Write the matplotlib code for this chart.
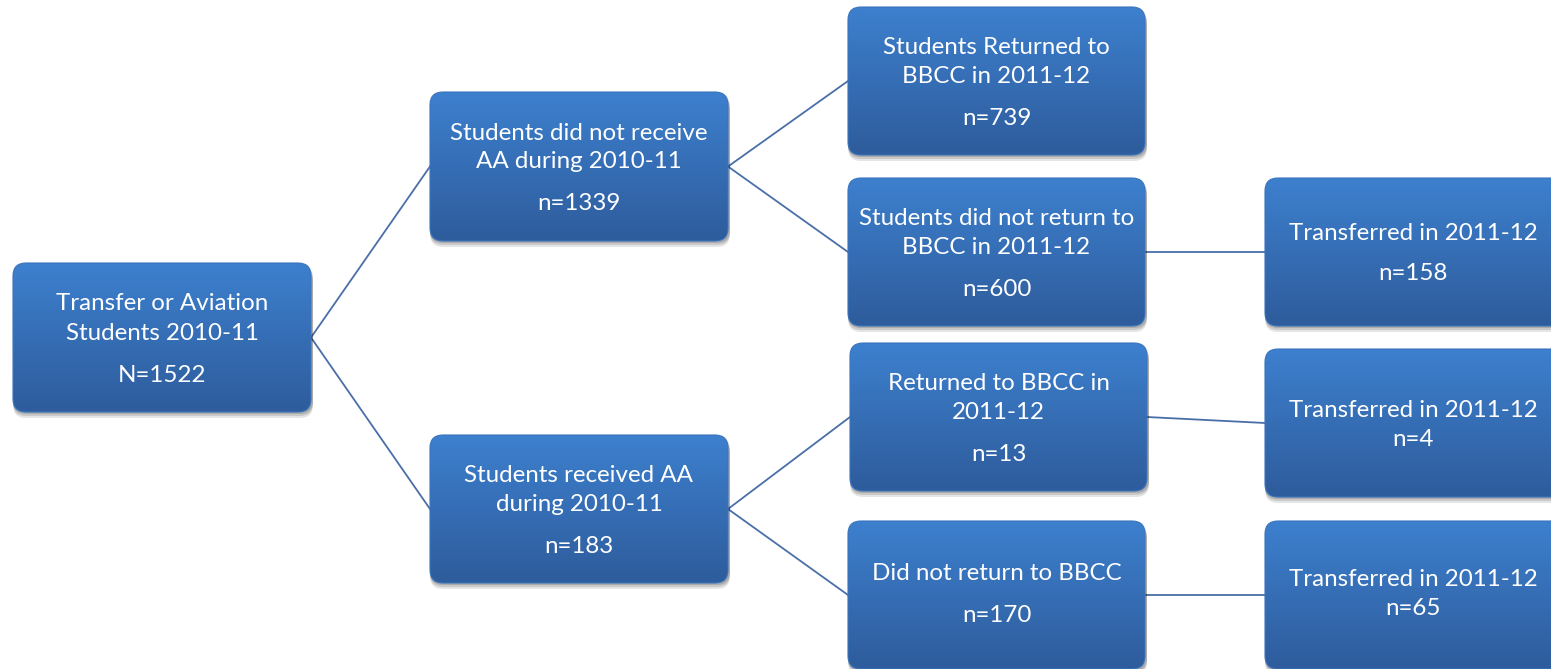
import matplotlib
matplotlib.use("Agg")
import matplotlib.pyplot as plt
from matplotlib.patches import FancyBboxPatch
import numpy as np

# ---- data ----
node_ids = ["root", "no_aa", "aa", "ret1", "noret1", "ret2", "noret2", "tr1", "tr2", "tr3"]
node_labels = [
    ["Transfer or Aviation", "Students 2010-11"],
    ["Students did not receive", "AA during 2010-11"],
    ["Students received AA", "during 2010-11"],
    ["Students Returned to", "BBCC in 2011-12"],
    ["Students did not return to", "BBCC in 2011-12"],
    ["Returned to BBCC in", "2011-12"],
    ["Did not return to BBCC"],
    ["Transferred in 2011-12"],
    ["Transferred in 2011-12"],
    ["Transferred in 2011-12"],
]
node_counts = ["N=1522", "n=1339", "n=183", "n=739", "n=600", "n=13", "n=170", "n=158", "n=4", "n=65"]
edges = [("root", "no_aa"), ("root", "aa"), ("no_aa", "ret1"), ("no_aa", "noret1"),
         ("aa", "ret2"), ("aa", "noret2"), ("noret1", "tr1"), ("ret2", "tr2"), ("noret2", "tr3")]

# ---- layout (pixel coordinates: x0, y0, x1, y1) ----
W, H = 1551, 669
boxes = {
    "root":   (13, 263, 311, 412),
    "no_aa":  (430, 92, 728, 241),
    "aa":     (430, 435, 728, 583),
    "ret1":   (848, 7, 1145, 155),
    "noret1": (848, 178, 1145, 326),
    "ret2":   (850, 343, 1147, 491),
    "noret2": (848, 521, 1145, 669),
    "tr1":    (1265, 178, 1575, 326),
    "tr2":    (1265, 349, 1575, 497),
    "tr3":    (1265, 521, 1575, 669),
}
# gap before count line
count_gap = {"tr1": 40, "tr2": 29, "tr3": 29}
text_cx = {"tr1": 1413, "tr2": 1413, "tr3": 1413}
text_cy_off = {"noret2": -3, "tr3": -3, "tr1": -1}

top_col = np.array([0x3d, 0x80, 0xce]) / 255
bot_col = np.array([0x2e, 0x5c, 0x9c]) / 255
line_col = "#4a6ea8"
FS = 17.4

fig = plt.figure(figsize=(W / 100, H / 100), dpi=100)
ax = fig.add_axes([0, 0, 1, 1])
ax.set_xlim(0, W)
ax.set_ylim(H, 0)
ax.axis("off")

# edges
for a, b in edges:
    xa0, ya0, xa1, ya1 = boxes[a]
    xb0, yb0, xb1, yb1 = boxes[b]
    ax.plot([xa1, xb0], [(ya0 + ya1) / 2, (yb0 + yb1) / 2], color=line_col, lw=1.3, zorder=1)

n = 256
grad = np.zeros((n, 1, 3))
for i in range(n):
    t = i / (n - 1)
    grad[i, 0, :] = top_col * (1 - t) + bot_col * t

r = 13
for nid, lines, cnt in zip(node_ids, node_labels, node_counts):
    x0, y0, x1, y1 = boxes[nid]
    w, h = x1 - x0, y1 - y0
    # shadow
    for dx, dy, al in [(1, 6, 0.10), (1, 4, 0.12), (1, 2, 0.15)]:
        sh = FancyBboxPatch((x0 + r + dx - 1, y0 + r + dy), w - 2 * r + 2, h - 2 * r,
                            boxstyle=f"round,pad={r}", fc="black", ec="none",
                            alpha=al, zorder=2)
        ax.add_patch(sh)
    p = FancyBboxPatch((x0 + r, y0 + r), w - 2 * r, h - 2 * r,
                       boxstyle=f"round,pad={r}", fc="none", ec="#3a74bd", lw=0.8, zorder=4)
    ax.add_patch(p)
    im = ax.imshow(grad, extent=(x0, x1, y1, y0), aspect="auto", zorder=3,
                   interpolation="bilinear")
    im.set_clip_path(p)
    # text
    gap_c = count_gap.get(nid, 42)
    lh = 29
    total = lh * (len(lines) - 1) + gap_c
    cy = (y0 + y1) / 2 + 2 + text_cy_off.get(nid, 0)
    cx = text_cx.get(nid, (x0 + x1) / 2)
    ystart = cy - total / 2
    for i, s in enumerate(lines):
        ax.text(cx, ystart + i * lh, s, color="white", fontsize=FS, family="Lato",
                ha="center", va="center", zorder=5)
    ax.text(cx, ystart + (len(lines) - 1) * lh + gap_c, cnt, color="white", fontsize=FS,
            family="Lato", ha="center", va="center", zorder=5)

fig.savefig("out.png", dpi=100)
